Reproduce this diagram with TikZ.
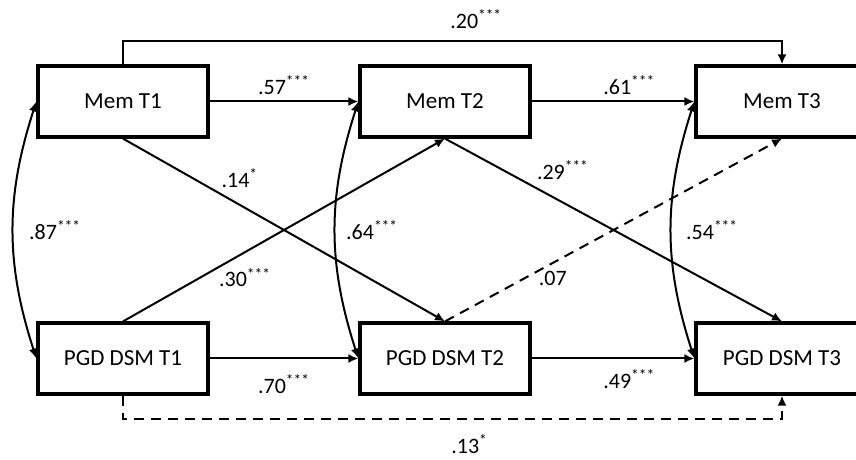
\documentclass[tikz,border=0pt]{standalone}
\usepackage{fontspec}
\setmainfont{Carlito}
\usetikzlibrary{arrows.meta,positioning}

\begin{document}
\begin{tikzpicture}[
  x=0.5pt,y=0.5pt,
  font=\fontsize{11}{13}\selectfont,
  >={Latex[length=5pt,width=4.5pt]},
  var/.style={draw,line width=1.6pt,minimum width=85pt,minimum height=35.5pt,
              inner sep=0pt,align=center,font=\fontsize{11.5}{13}\selectfont},
  reg/.style={->,line width=1pt},
  nsreg/.style={reg,dash pattern=on 5pt off 3.5pt},
  cov/.style={<->,line width=1pt},
  lbl/.style={inner sep=1pt},
]
\useasboundingbox (0,0) rectangle (856,460);
\clip (0,0) rectangle (856,460);

% ---- the six measured variables ----
\node[var] (mem1) at (123,358.5) {Mem T1};
\node[var] (mem2) at (445,358.5) {Mem T2};
\node[var,minimum width=86pt] (mem3) at (782,358.5) {Mem T3};
\node[var] (pgd1) at (123,101.5) {PGD DSM T1};
\node[var] (pgd2) at (445,101.5) {PGD DSM T2};
\node[var,minimum width=86pt] (pgd3) at (782,101.5) {PGD DSM T3};

% autoregressive paths
\draw[reg] (mem1) -- node[lbl,above=2pt] (b57) {.57\textsuperscript{***}} (mem2);
\draw[reg] (mem2) -- node[lbl,above=2pt,pos=0.6] (b61) {.61\textsuperscript{***}} (mem3);
\draw[reg] (pgd1) -- node[lbl,below=6.5pt] (b70) {.70\textsuperscript{***}} (pgd2);
\draw[reg] (pgd2) -- node[lbl,below=4pt,pos=0.6] (b49) {.49\textsuperscript{***}} (pgd3);

% lag-2 paths
\draw[reg] (mem1.north) -- ++(0,23)
      -| node[lbl,above=5pt,pos=0.268] (b20) {.20\textsuperscript{***}} (mem3.north);
\draw[nsreg] (pgd1.south) -- ++(0,-23)
      -| node[lbl,below=6.5pt,pos=0.263] (b13) {.13\textsuperscript{*}} (pgd3.south);

% cross-lagged paths
\draw[reg] (mem1.south) -- node[lbl,above=7pt,pos=0.363] (b14) {.14\textsuperscript{*}} (pgd2.north);
\draw[reg] (pgd1.north) -- node[lbl,below=6.5pt,pos=0.379] (b30) {.30\textsuperscript{***}} (mem2.south);
\draw[reg] (mem2.south) -- node[lbl,above=10pt,pos=0.35] (b29) {.29\textsuperscript{***}} (pgd3.north);
\draw[nsreg] (pgd2.north) -- node[lbl,below=2.5pt,pos=0.32] (b07) {.07} (mem3.south);

% within-wave covariances
\draw[cov] (mem1.west) to[bend right=18]
      node[lbl,right=6.5pt] (c87) {.87\textsuperscript{***}} (pgd1.west);
\draw[cov] (mem2.west) to[bend right=18]
      node[lbl,right=4pt] (c64) {.64\textsuperscript{***}} (pgd2.west);
\draw[cov] (mem3.west) to[bend right=18]
      node[lbl,right=6pt] (c54) {.54\textsuperscript{***}} (pgd3.west);

\end{tikzpicture}
\end{document}
